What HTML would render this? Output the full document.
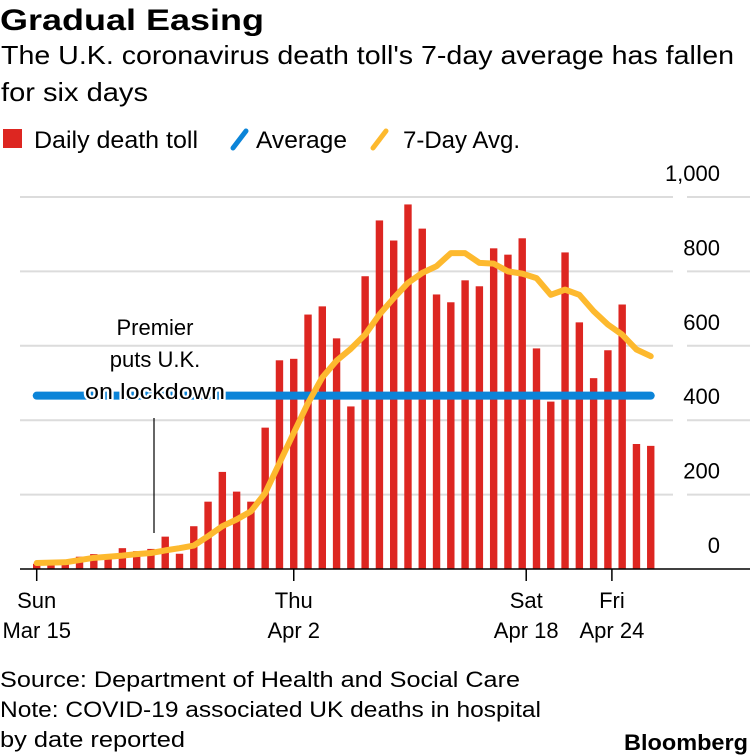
<!DOCTYPE html>
<html><head><meta charset="utf-8"><style>
html,body{margin:0;padding:0;background:#fff;}
svg{display:block;font-family:"Liberation Sans",sans-serif;}
</style></head><body>
<svg id="chart" width="750" height="756" viewBox="0 0 750 756" xmlns="http://www.w3.org/2000/svg">
<text x="0" y="30" font-size="30" font-weight="bold" textLength="264" lengthAdjust="spacingAndGlyphs">Gradual Easing</text>
<text x="1" y="64" font-size="26" textLength="733" lengthAdjust="spacingAndGlyphs">The U.K. coronavirus death toll's 7-day average has fallen</text>
<text x="1" y="101" font-size="26" textLength="147" lengthAdjust="spacingAndGlyphs">for six days</text>
<g>
<rect x="3" y="129" width="19" height="19" fill="#dd2621"/>
<text x="34" y="148" font-size="24" textLength="164" lengthAdjust="spacingAndGlyphs">Daily death toll</text>
<line x1="233" y1="148" x2="246" y2="131" stroke="#0b84d8" stroke-width="5" stroke-linecap="round"/>
<text x="256" y="148" font-size="24" textLength="91" lengthAdjust="spacingAndGlyphs">Average</text>
<line x1="373" y1="148" x2="386" y2="131" stroke="#fdb92e" stroke-width="5" stroke-linecap="round"/>
<text x="403" y="148" font-size="24" textLength="117" lengthAdjust="spacingAndGlyphs">7-Day Avg.</text>
</g>
<g id="grid"></g>
<g id="bars"></g>
<g id="lines"></g>
<g id="annot">
<line x1="154" y1="418" x2="154" y2="533" stroke="#000" stroke-width="1.2"/>
<g font-size="22" text-anchor="middle" stroke="#fff" stroke-width="4" paint-order="stroke" stroke-linejoin="round">
<text x="155" y="335">Premier</text>
<text x="155" y="367">puts U.K.</text>
<text x="155" y="399" textLength="140" lengthAdjust="spacingAndGlyphs">on lockdown</text>
</g>
</g>
<g id="xaxis"></g>
<g font-size="22" fill="#000">
<text x="0" y="687" textLength="520" lengthAdjust="spacingAndGlyphs">Source: Department of Health and Social Care</text>
<text x="0" y="717" textLength="541" lengthAdjust="spacingAndGlyphs">Note: COVID-19 associated UK deaths in hospital</text>
<text x="0" y="747" textLength="185" lengthAdjust="spacingAndGlyphs">by date reported</text>
</g>
<text x="748" y="750" font-size="22" font-weight="bold" text-anchor="end" textLength="124" lengthAdjust="spacingAndGlyphs">Bloomberg</text>
</svg>
<script>
const dailyDeaths = [14,20,16,33,40,33,56,48,54,87,41,115,181,261,208,181,380,561,565,684,706,620,437,787,937,883,980,915,738,717,776,760,862,845,889,593,450,851,663,513,588,711,336,331];
const sevenDayAvg = [16,17,18,24,30,33,36,40,43,50,56,63,88,115,133,155,204,285,366,446,515,560,592,630,684,728,769,796,814,849,849,823,821,800,794,782,737,751,737,693,657,630,590,572];
const averageValue = [466];
const yTicks = [0,200,400,600,800,1000];
const yTickLabels = ["0","200","400","600","800","1,000"];
const xTickDays = [0,18,34,40];
const xTickTop = ["Sun","Thu","Sat","Fri"];
const xTickBottom = ["Mar 15","Apr 2","Apr 18","Apr 24"];

const NS="http://www.w3.org/2000/svg";
const X0=36.7, DX=14.28, Y0=569, YS=0.372;
const xs=d=>X0+d*DX;
const ys=v=>Y0-v*YS;
function mk(tag,attrs,parent){const e=document.createElementNS(NS,tag);for(const k in attrs)e.setAttribute(k,attrs[k]);parent.appendChild(e);return e;}
const grid=document.getElementById('grid');
yTicks.forEach((t,i)=>{
  if(t>0){
    const g1=mk('line',{x1:20,x2:673,y1:ys(t),y2:ys(t),stroke:'#dcdcdc','stroke-width':2},grid);
    
    
    const g2=mk('line',{x1:687,x2:750,y1:ys(t),y2:ys(t),stroke:'#dcdcdc','stroke-width':2},grid);
    
    
  }
  const tx=mk('text',{x:720,y:ys(t)-16,'font-size':22,'text-anchor':'end'},grid);
  tx.textContent=yTickLabels[i];
  
  
});
const bars=document.getElementById('bars');
dailyDeaths.forEach((v,d)=>{
  const r=mk('rect',{x:xs(d)-3.7,y:ys(v),width:7.4,height:v*YS,fill:'#dd2621'},bars);
  
  
});
const lines=document.getElementById('lines');
const avg=mk('line',{x1:xs(0),x2:xs(dailyDeaths.length-1),y1:ys(averageValue[0]),y2:ys(averageValue[0]),stroke:'#0b84d8','stroke-width':8,'stroke-linecap':'round'},lines);


const p=mk('polyline',{points:sevenDayAvg.map((v,d)=>xs(d)+','+ys(v)).join(' '),fill:'none',stroke:'#fdb92e','stroke-width':6,'stroke-linejoin':'round','stroke-linecap':'round'},lines);


const xa=document.getElementById('xaxis');
const base=mk('line',{x1:20,x2:750,y1:Y0,y2:Y0,stroke:'#000','stroke-width':1.5},xa);


xTickDays.forEach((d,i)=>{
  const x=xs(d)+(i>=2?4:0);
  const tk=mk('line',{x1:x,x2:x,y1:Y0,y2:Y0+12,stroke:'#000','stroke-width':1.5},xa);
  
  
  const t1=mk('text',{x:x,y:608,'font-size':22,'text-anchor':'middle'},xa);
  t1.textContent=xTickTop[i];
  
  
  const t2=mk('text',{x:x,y:638,'font-size':22,'text-anchor':'middle'},xa);
  t2.textContent=xTickBottom[i];
  
  
});
</script>
</body></html>
